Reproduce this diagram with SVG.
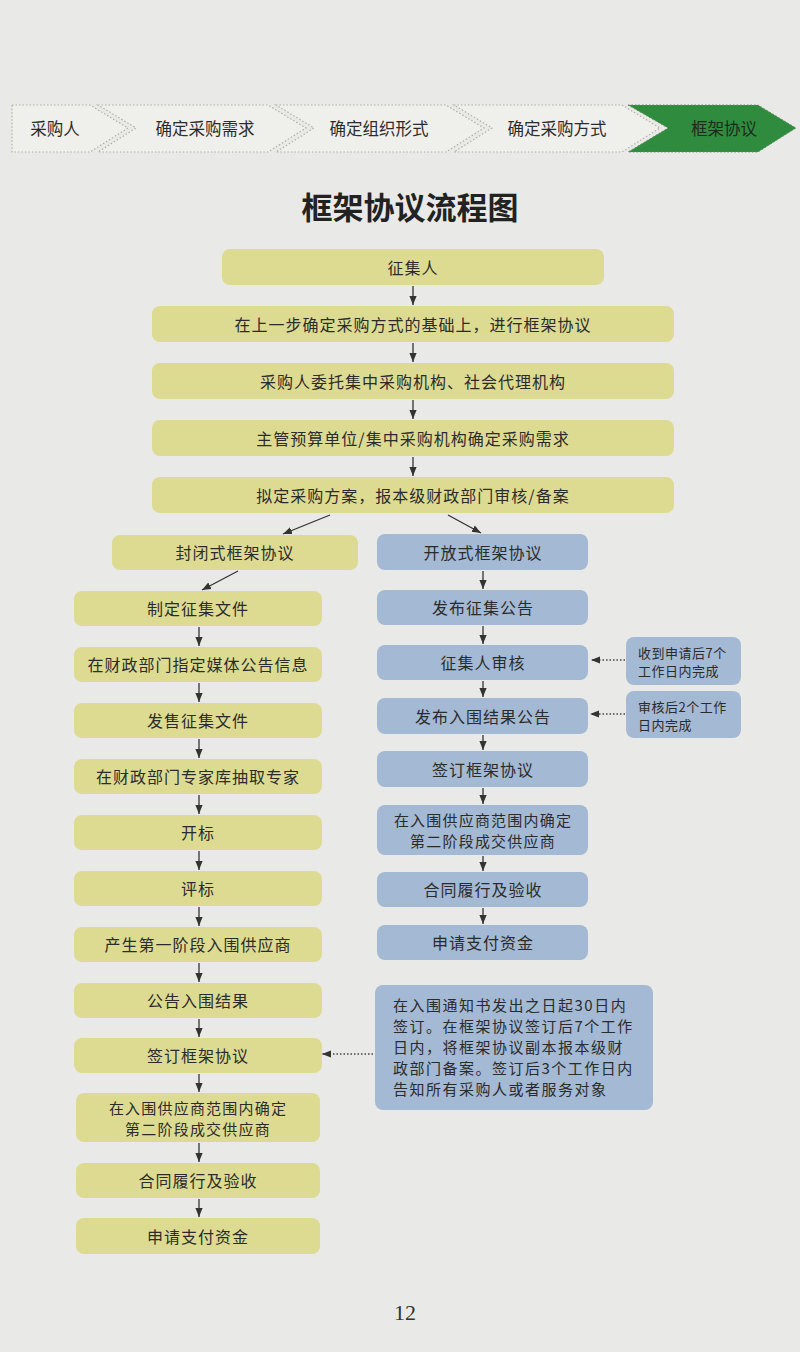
<svg xmlns="http://www.w3.org/2000/svg" width="800" height="1352" viewBox="0 0 800 1352">
<style>
text{font-family:"Noto Sans CJK SC","Liberation Sans",sans-serif;fill:#2b2b2b}
.t{font-size:16px;letter-spacing:1px;text-anchor:middle;dominant-baseline:central}
.t2{font-size:15px;letter-spacing:1.2px;text-anchor:middle;dominant-baseline:central}
.n{font-size:13px;letter-spacing:0.5px;dominant-baseline:central}
.h{font-size:16.5px;text-anchor:middle;dominant-baseline:central}
.y{fill:#dddb92}
.b{fill:#a4b9d3}
.seg{fill:#efefec;stroke:#b0b0a8;stroke-width:1.2;stroke-dasharray:1.5 2}
.c{stroke:#333;stroke-width:1.3;fill:none;marker-end:url(#ah)}
.d{stroke:#444;stroke-width:1.3;fill:none;stroke-dasharray:1.5 2;marker-end:url(#ah)}
</style>
<defs>
<marker id="ah" viewBox="0 0 10 10" refX="10" refY="5" markerWidth="9" markerHeight="9" orient="auto" markerUnits="userSpaceOnUse"><path d="M0,1 L10,5 L0,9 z" fill="#333"/></marker>
</defs>
<rect width="800" height="1352" fill="#e9eae7"/>

<g id="header">
<polygon class="seg" points="12,105 90,105 128,128 90,152 12,152"/>
<polygon class="seg" points="98,105 268,105 306,128 268,152 98,152 136,128"/>
<polygon class="seg" points="276,105 446,105 484,128 446,152 276,152 314,128"/>
<polygon class="seg" points="454,105 622,105 660,128 622,152 454,152 492,128"/>
<polygon points="628,105 758,105 796,128 758,152 628,152 668,128" fill="#2f8c3f" stroke="#6a8a6a" stroke-width="1" stroke-dasharray="1.5 2"/>
<text class="h" x="55" y="128">采购人</text>
<text class="h" x="205" y="128">确定采购需求</text>
<text class="h" x="379" y="128">确定组织形式</text>
<text class="h" x="557" y="128">确定采购方式</text>
<text class="h" x="724" y="128" style="fill:#1e2a1e">框架协议</text>
</g>

<text x="410" y="205" style="font-size:31px;font-weight:bold;text-anchor:middle;dominant-baseline:central;fill:#222">框架协议流程图</text>

<g id="m1"><rect class="y" x="222" y="249" width="382" height="36" rx="8"/><text class="t" x="413" y="267">征集人</text></g>
<g id="m2"><rect class="y" x="152" y="306" width="522" height="36" rx="8"/><text class="t" x="413" y="324">在上一步确定采购方式的基础上，进行框架协议</text></g>
<g id="m3"><rect class="y" x="152" y="363" width="522" height="36" rx="8"/><text class="t" x="413" y="381">采购人委托集中采购机构、社会代理机构</text></g>
<g id="m4"><rect class="y" x="152" y="420" width="522" height="36" rx="8"/><text class="t" x="413" y="438">主管预算单位/集中采购机构确定采购需求</text></g>
<g id="m5"><rect class="y" x="152" y="477" width="522" height="36" rx="8"/><text class="t" x="413" y="495">拟定采购方案，报本级财政部门审核/备案</text></g>

<g id="L0"><rect class="y" x="112" y="535" width="246" height="35" rx="8"/><text class="t" x="235" y="552">封闭式框架协议</text></g>
<g id="L1"><rect class="y" x="74" y="591" width="248" height="35" rx="8"/><text class="t" x="198" y="608">制定征集文件</text></g>
<g id="L2"><rect class="y" x="74" y="647" width="248" height="35" rx="8"/><text class="t" x="198" y="664">在财政部门指定媒体公告信息</text></g>
<g id="L3"><rect class="y" x="74" y="703" width="248" height="35" rx="8"/><text class="t" x="198" y="720">发售征集文件</text></g>
<g id="L4"><rect class="y" x="74" y="759" width="248" height="35" rx="8"/><text class="t" x="198" y="776">在财政部门专家库抽取专家</text></g>
<g id="L5"><rect class="y" x="74" y="815" width="248" height="35" rx="8"/><text class="t" x="198" y="832">开标</text></g>
<g id="L6"><rect class="y" x="74" y="871" width="248" height="35" rx="8"/><text class="t" x="198" y="888">评标</text></g>
<g id="L7"><rect class="y" x="74" y="927" width="248" height="35" rx="8"/><text class="t" x="198" y="944">产生第一阶段入围供应商</text></g>
<g id="L8"><rect class="y" x="74" y="983" width="248" height="35" rx="8"/><text class="t" x="198" y="1000">公告入围结果</text></g>
<g id="L9"><rect class="y" x="74" y="1038" width="248" height="35" rx="8"/><text class="t" x="198" y="1055">签订框架协议</text></g>
<g id="L10"><rect class="y" x="76" y="1093" width="244" height="49" rx="8"/><text class="t2" x="198" y="1107">在入围供应商范围内确定</text><text class="t2" x="198" y="1128">第二阶段成交供应商</text></g>
<g id="L11"><rect class="y" x="76" y="1163" width="244" height="35" rx="8"/><text class="t" x="198" y="1180">合同履行及验收</text></g>
<g id="L12"><rect class="y" x="76" y="1218" width="244" height="36" rx="8"/><text class="t" x="198" y="1236">申请支付资金</text></g>

<g id="R0"><rect class="b" x="377" y="534" width="211" height="36" rx="8"/><text class="t" x="483" y="552">开放式框架协议</text></g>
<g id="R1"><rect class="b" x="377" y="590" width="211" height="35" rx="8"/><text class="t" x="483" y="607">发布征集公告</text></g>
<g id="R2"><rect class="b" x="377" y="645" width="211" height="35" rx="8"/><text class="t" x="483" y="662">征集人审核</text></g>
<g id="R3"><rect class="b" x="377" y="698" width="211" height="36" rx="8"/><text class="t" x="483" y="716">发布入围结果公告</text></g>
<g id="R4"><rect class="b" x="377" y="751" width="211" height="36" rx="8"/><text class="t" x="483" y="769">签订框架协议</text></g>
<g id="R5"><rect class="b" x="377" y="805" width="211" height="50" rx="8"/><text class="t2" x="483" y="819">在入围供应商范围内确定</text><text class="t2" x="483" y="840">第二阶段成交供应商</text></g>
<g id="R6"><rect class="b" x="377" y="872" width="211" height="35" rx="8"/><text class="t" x="483" y="889">合同履行及验收</text></g>
<g id="R7"><rect class="b" x="377" y="925" width="211" height="35" rx="8"/><text class="t" x="483" y="942">申请支付资金</text></g>

<g id="N1"><rect class="b" x="626" y="637" width="115" height="48" rx="8"/><text class="n" x="638" y="652">收到申请后7个</text><text class="n" x="638" y="670">工作日内完成</text></g>
<g id="N2"><rect class="b" x="626" y="691" width="115" height="47" rx="8"/><text class="n" x="638" y="706">审核后2个工作</text><text class="n" x="638" y="724">日内完成</text></g>
<g id="N3"><rect class="b" x="375" y="985" width="278" height="125" rx="8"/>
<text class="n" style="font-size:15px;letter-spacing:1.5px" x="393" y="1004">在入围通知书发出之日起30日内</text>
<text class="n" style="font-size:15px;letter-spacing:1.5px" x="393" y="1025">签订。在框架协议签订后7个工作</text>
<text class="n" style="font-size:15px;letter-spacing:1.5px" x="393" y="1046">日内，将框架协议副本报本级财</text>
<text class="n" style="font-size:15px;letter-spacing:1.5px" x="393" y="1067">政部门备案。签订后3个工作日内</text>
<text class="n" style="font-size:15px;letter-spacing:1.5px" x="393" y="1088">告知所有采购人或者服务对象</text>
</g>

<g id="connectors">
<line class="c" x1="413" y1="286" x2="413" y2="305"/>
<line class="c" x1="413" y1="343" x2="413" y2="362"/>
<line class="c" x1="413" y1="400" x2="413" y2="419"/>
<line class="c" x1="413" y1="457" x2="413" y2="476"/>
<line class="c" x1="330" y1="515" x2="283" y2="534"/>
<line class="c" x1="448" y1="515" x2="481" y2="533"/>
<line class="c" x1="238" y1="571" x2="202" y2="590"/>
<line class="c" x1="199" y1="627" x2="199" y2="646"/>
<line class="c" x1="199" y1="683" x2="199" y2="702"/>
<line class="c" x1="199" y1="739" x2="199" y2="758"/>
<line class="c" x1="199" y1="795" x2="199" y2="814"/>
<line class="c" x1="199" y1="851" x2="199" y2="870"/>
<line class="c" x1="199" y1="907" x2="199" y2="926"/>
<line class="c" x1="199" y1="963" x2="199" y2="982"/>
<line class="c" x1="199" y1="1019" x2="199" y2="1037"/>
<line class="c" x1="199" y1="1074" x2="199" y2="1092"/>
<line class="c" x1="199" y1="1143" x2="199" y2="1162"/>
<line class="c" x1="199" y1="1199" x2="199" y2="1217"/>
<line class="c" x1="483" y1="571" x2="483" y2="589"/>
<line class="c" x1="483" y1="626" x2="483" y2="644"/>
<line class="c" x1="483" y1="681" x2="483" y2="697"/>
<line class="c" x1="483" y1="735" x2="483" y2="750"/>
<line class="c" x1="483" y1="788" x2="483" y2="804"/>
<line class="c" x1="483" y1="856" x2="483" y2="871"/>
<line class="c" x1="483" y1="908" x2="483" y2="924"/>
<line class="d" x1="625" y1="660" x2="591" y2="660"/>
<line class="d" x1="625" y1="714" x2="590" y2="714"/>
<line class="d" x1="373" y1="1054" x2="322" y2="1054"/>
</g>

<text x="405" y="1312" style="font-family:'Liberation Serif',serif;font-size:22px;text-anchor:middle;dominant-baseline:central;fill:#333">12</text>
</svg>
